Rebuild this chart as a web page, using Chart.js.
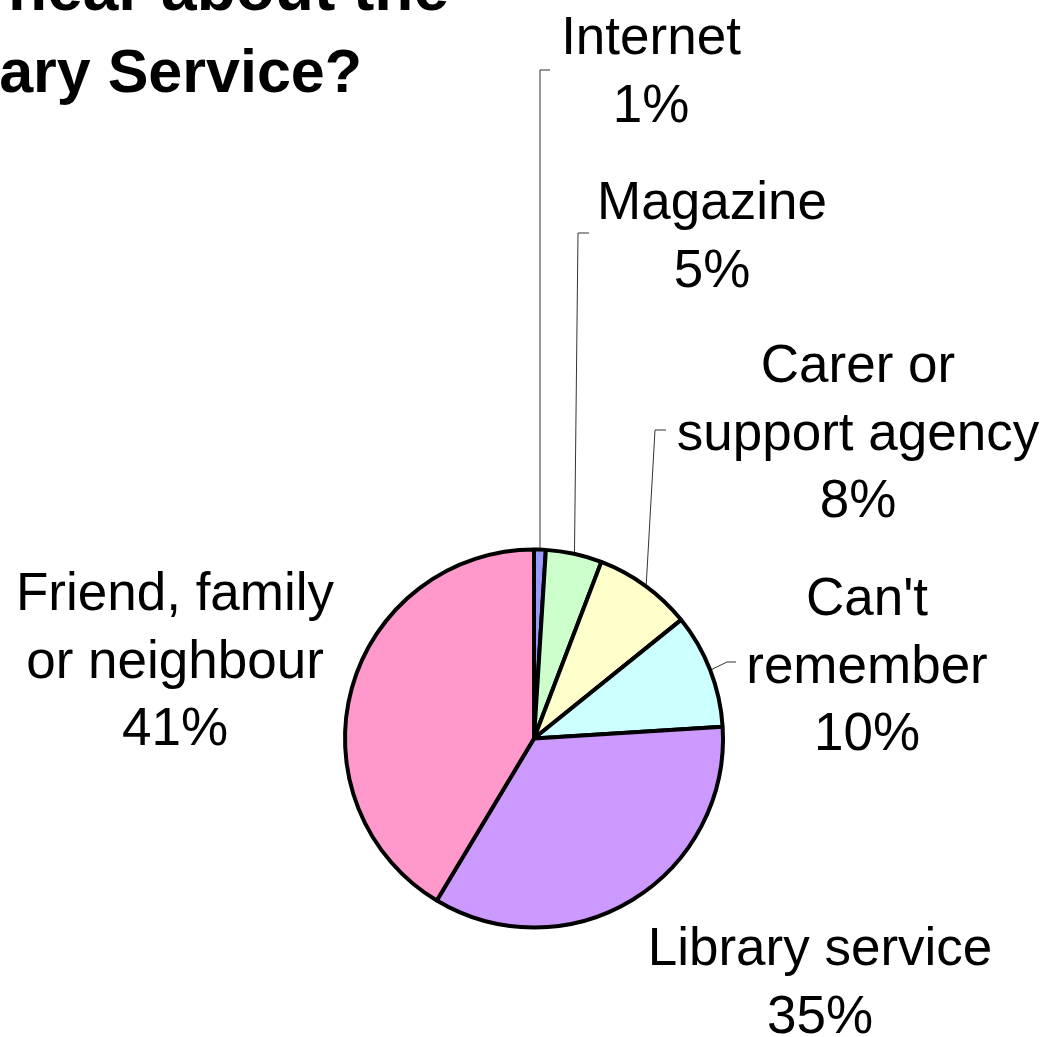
<!DOCTYPE html>
<html>
<head>
<meta charset="utf-8">
<script src="https://cdn.jsdelivr.net/npm/chart.js@4"></script>
<style>
  html, body { margin: 0; padding: 0; background: #fff; }
  canvas { display: block; }
</style>
</head>
<body>
<canvas id="pie" width="1048" height="1037"></canvas>
<script>
// data
const categories = ["Internet", "Magazine", "Carer or support agency", "Can't remember", "Library service", "Friend, family or neighbour"]
const shares = [1.0, 4.8, 8.4, 9.8, 34.6, 41.4]
const sliceColors = ["#9999FF", "#CCFFCC", "#FFFFCC", "#CCFFFF", "#CC99FF", "#FF99CC"]
const labelLines = [
  ["Internet"],
  ["Magazine"],
  ["Carer or", "support agency"],
  ["Can't", "remember"],
  ["Library service"],
  ["Friend, family", "or neighbour"]
]
const titleLines = ["How did you hear about the", "Library Service?"]

// where the label blocks sit (first baseline, centre x)
const labelPos = [
  { x: 651, y: 54 },
  { x: 712, y: 219 },
  { x: 858, y: 382 },
  { x: 867, y: 615 },
  { x: 820, y: 965 },
  { x: 175, y: 610 }
]
// leader line elbows (null = no leader)
const leaders = [
  { x: 540, y: 70, end: 550 },
  { x: 578, y: 233, end: 589 },
  { x: 655, y: 430, end: 666 },
  { x: 727, y: 662, end: 736 },
  null,
  null
]

const lineGap = 67.5

const pieLabels = {
  id: "pieLabels",
  afterDraw(chart) {
    const ctx = chart.ctx
    const arcs = chart.getDatasetMeta(0).data
    const total = shares.reduce((s, v) => s + v, 0)

    // title (cut off by the picture edge)
    ctx.save()
    ctx.fillStyle = "#000"
    ctx.textAlign = "right"
    ctx.textBaseline = "alphabetic"
    ctx.font = "bold 64px 'Liberation Sans', Arial, sans-serif"
    ctx.fillText(titleLines[0], 449, 10)
    ctx.font = "bold 61px 'Liberation Sans', Arial, sans-serif"
    ctx.fillText(titleLines[1], 362, 92)
    ctx.restore()

    // leader lines
    ctx.save()
    ctx.strokeStyle = "#333"
    ctx.lineWidth = 1
    arcs.forEach((arc, i) => {
      const l = leaders[i]
      if (!l) return
      const a = (arc.startAngle + arc.endAngle) / 2
      const r = arc.outerRadius + 2
      ctx.beginPath()
      ctx.moveTo(arc.x + Math.cos(a) * r, arc.y + Math.sin(a) * r)
      ctx.lineTo(l.x, l.y)
      ctx.lineTo(l.end, l.y)
      ctx.stroke()
    })
    ctx.restore()

    // text labels
    ctx.save()
    ctx.fillStyle = "#000"
    ctx.font = "53px 'Liberation Sans', Arial, sans-serif"
    ctx.textAlign = "center"
    ctx.textBaseline = "alphabetic"
    categories.forEach((c, i) => {
      const p = labelPos[i]
      const lines = [...labelLines[i], Math.round(shares[i] / total * 100) + "%"]
      lines.forEach((t, k) => ctx.fillText(t, p.x, p.y + k * lineGap))
    })
    ctx.restore()
  }
}

new Chart(document.getElementById("pie"), {
  type: "pie",
  data: {
    labels: categories,
    datasets: [{
      data: shares,
      backgroundColor: sliceColors,
      borderColor: "#000",
      borderWidth: 4,
      hoverOffset: 0
    }]
  },
  options: {
    responsive: false,
    animation: false,
    layout: { padding: { left: 343, right: 323, top: 547, bottom: 107 } },
    plugins: {
      legend: { display: false },
      tooltip: { enabled: false },
      title: { display: false }
    }
  },
  plugins: [pieLabels]
})
</script>
</body>
</html>
